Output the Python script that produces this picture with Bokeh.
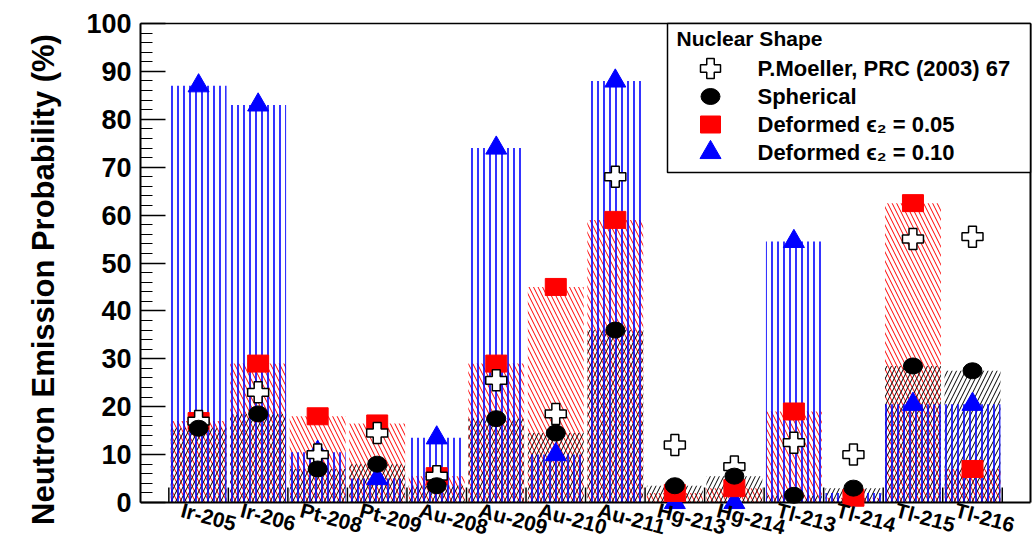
from bokeh.plotting import figure
from bokeh.models import Range1d, SingleIntervalTicker, ColumnDataSource
from bokeh.core.properties import value
from bokeh.embed import file_html
from bokeh.resources import INLINE

# ---------------- data ----------------
isotopes = ["Ir-205", "Ir-206", "Pt-208", "Pt-209", "Au-208", "Au-209", "Au-210",
            "Au-211", "Hg-213", "Hg-214", "Tl-213", "Tl-214", "Tl-215", "Tl-216"]
moeller = [17, 23, 10, 14.5, 5.5, 25.5, 18.5, 68, 12, 7.5, 12.5, 10, 55, 55.5]
spherical = [15.5, 18.5, 7, 8, 3.5, 17.5, 14.5, 36, 3.5, 5.5, 1.5, 3, 28.5, 27.5]
deformed_005 = [17, 29, 18, 16.5, 5.5, 29, 45, 59, 2, 3, 19, 1, 62.5, 7]
deformed_010 = [87, 83, 10.5, 5, 13.5, 74, 10, 88, 0, 0, 54.5, 2, 20.5, 20.5]

legend_title = "Nuclear Shape"
legend_labels = ["P.Moeller, PRC (2003) 67", "Spherical",
                 "Deformed \u03f5\u2082 = 0.05", "Deformed \u03f5\u2082 = 0.10"]
y_title = "Neutron Emission Probability (%)"

centers = list(range(1, len(isotopes) + 1))
src = ColumnDataSource(dict(x=centers, label=isotopes, moeller=moeller, sph=spherical,
                            d05=deformed_005, d10=deformed_010))

# ---------------- layout ----------------
W, H = 1035, 538
AX_L, AX_R, AX_T, AX_B = 140, 1030, 23, 502   # ROOT frame box in canvas px
XU = 59.53                                     # px per category
YU = (AX_B - AX_T) / 100.0                     # px per percent
X_START = 0.024
FONT = "Liberation Sans"


def sx(px):  # canvas px -> data x (layout helpers only)
    return X_START + (px - AX_L) / XU


def sy(py):  # canvas px -> data y
    return (AX_B - py) / YU


# the Bokeh frame is a little larger than the drawn box so that the
# category labels below the axis stay inside it
p = figure(width=W, height=H, output_backend="svg", toolbar_location=None,
           x_range=Range1d(X_START, sx(W - 2)), y_range=Range1d(sy(H), sy(20)),
           min_border_left=AX_L, min_border_right=2, min_border_top=20, min_border_bottom=0)
p.background_fill_color = "white"
p.border_fill_color = "white"
p.outline_line_color = None
p.xgrid.visible = False
p.ygrid.visible = False
p.xaxis.visible = False

# ---------------- hatched bars ----------------
BW = 0.94
p.vbar(x="x", top="d05", width=BW, source=src, fill_color=None, line_color=None,
       hatch_pattern="left_diagonal_line", hatch_color="red", hatch_scale=9, hatch_weight=1)
p.vbar(x="x", top="sph", width=BW, source=src, fill_color=None, line_color=None,
       hatch_pattern="right_diagonal_line", hatch_color="black", hatch_scale=9, hatch_weight=1)
p.vbar(x="x", top="d10", width=BW, source=src, fill_color=None, line_color=None,
       hatch_pattern="vertical_line", hatch_color="blue", hatch_scale=6, hatch_weight=1.6)

# frame box: bottom axis line, top and right edges
xl, xr = sx(AX_L), sx(AX_R)
p.segment(x0=[xl, xl, xr], y0=[0, 100, 0], x1=[xr, xr, xr], y1=[0, 100, 100],
          line_color="black", line_width=[2, 1.5, 2])

# bin-edge tick marks of the category axis (15 px tall, inside the frame)
edges = [c - 0.5 for c in centers] + [centers[-1] + 0.5]
tick_len = 15 / YU
p.segment(x0=edges, y0=[0] * len(edges), x1=edges, y1=[tick_len] * len(edges),
          line_color="black", line_width=1.5)

# ---------------- markers ----------------
p.scatter("x", "d10", source=src, marker="triangle", size=21,
          fill_color="blue", line_color="blue")
p.rect("x", "d05", width=21, height=17, width_units="screen", height_units="screen",
       source=src, fill_color="red", line_color="red")
p.scatter("x", "moeller", source=src, marker="plus", size=21,
          fill_color="white", line_color="black", line_width=1.5)
p.ellipse("x", "sph", width=19, height=16, width_units="screen", height_units="screen",
          source=src, fill_color="black", line_color="black")

# rotated category labels under the axis
p.text(x="x", y=sy(AX_B - 4), text="label", source=src, x_offset=-14, angle=-0.26,
       text_align="left", text_baseline="top", text_font=value(FONT),
       text_font_style="bold", text_font_size="21px", text_color="black")

# ---------------- y axis ----------------
ya = p.yaxis[0]
ya.bounds = (0, 100)
ya.ticker = SingleIntervalTicker(interval=10, num_minor_ticks=5)
ya.major_tick_in = 25
ya.major_tick_out = 0
ya.minor_tick_in = 12
ya.minor_tick_out = 0
ya.major_tick_line_width = 1.5
ya.minor_tick_line_width = 1.2
ya.axis_line_width = 2
ya.major_label_text_font = FONT
ya.major_label_text_font_style = "bold"
ya.major_label_text_font_size = "27px"
ya.major_label_text_color = "black"
ya.major_label_standoff = 9
ya.axis_label = y_title
ya.axis_label_text_font = FONT
ya.axis_label_text_font_style = "bold"
ya.axis_label_text_font_size = "31px"
ya.axis_label_text_color = "black"
ya.axis_label_standoff = 22

# ---------------- legend (drawn by hand, inside the frame) ----------------
p.quad(left=[sx(667)], right=[xr], top=[100], bottom=[sy(172)],
       fill_color="white", line_color="black", line_width=1.5)
mx = sx(710)
rows = [sy(68), sy(96), sy(124), sy(152)]
p.scatter([mx], [rows[0]], marker="plus", size=20, fill_color="white",
          line_color="black", line_width=1.5)
p.ellipse([mx], [rows[1]], width=19, height=16, width_units="screen", height_units="screen",
          fill_color="black", line_color="black")
p.rect([mx], [rows[2]], width=20, height=17, width_units="screen", height_units="screen",
       fill_color="red", line_color="red")
p.scatter([mx], [rows[3]], marker="triangle", size=21, fill_color="blue", line_color="blue")
p.text([sx(676)], [sy(38)], text=[legend_title], text_font=value(FONT), text_font_style="bold",
       text_font_size="21px", text_baseline="middle", text_align="left", text_color="black")
p.text([sx(757)] * 4, rows, text=legend_labels, text_font=value(FONT), text_font_style="bold",
       text_font_size="22px", text_baseline="middle", text_align="left", text_color="black")

open("out.html", "w").write(file_html(p, INLINE))
